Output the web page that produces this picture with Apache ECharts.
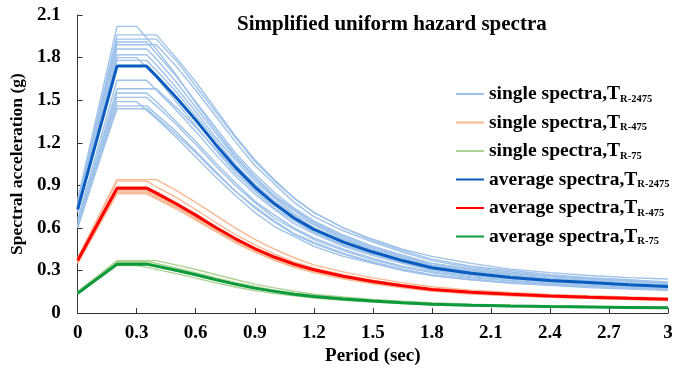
<!DOCTYPE html>
<html>
<head>
<meta charset="utf-8">
<script src="https://cdn.jsdelivr.net/npm/echarts@6/dist/echarts.min.js"></script>
<style>html,body{margin:0;padding:0;background:#fff}#c{width:676px;height:371px}</style>
</head>
<body>
<div id="c"></div>
<script>
var periods = [0, 0.2, 0.3, 0.35, 0.4, 0.5, 0.6, 0.7, 0.8, 0.9, 1.0, 1.1, 1.2, 1.35, 1.5, 1.65, 1.8, 2.0, 2.2, 2.4, 2.6, 2.8, 3.0];
var yTicks = [0, 0.3, 0.6, 0.9, 1.2, 1.5, 1.8, 2.1];
var xTicks = [0, 0.3, 0.6, 0.9, 1.2, 1.5, 1.8, 2.1, 2.4, 2.7, 3.0];

var avg2475 = [0.73, 1.74, 1.74, 1.74, 1.67, 1.52, 1.36, 1.19, 1.03, 0.89, 0.77, 0.67, 0.59, 0.50, 0.43, 0.37, 0.32, 0.28, 0.25, 0.23, 0.215, 0.20, 0.187];
var avg475 = [0.37, 0.88, 0.88, 0.88, 0.845, 0.77, 0.69, 0.605, 0.525, 0.455, 0.395, 0.345, 0.305, 0.26, 0.222, 0.192, 0.167, 0.147, 0.132, 0.121, 0.112, 0.104, 0.097];
var avg75 = [0.14, 0.345, 0.345, 0.345, 0.331, 0.302, 0.27, 0.236, 0.204, 0.176, 0.153, 0.133, 0.117, 0.099, 0.085, 0.073, 0.063, 0.056, 0.05, 0.046, 0.043, 0.04, 0.037];

var single2475 = [
  [0.80, 2.02, 2.02, 1.94, 1.86, 1.68, 1.48, 1.29, 1.11, 0.96, 0.83, 0.73, 0.64, 0.54, 0.47, 0.40, 0.35, 0.31, 0.28, 0.26, 0.24, 0.225, 0.21],
  [0.78, 1.96, 1.96, 1.96, 1.96, 1.80, 1.63, 1.44, 1.25, 1.08, 0.94, 0.81, 0.71, 0.60, 0.51, 0.44, 0.38, 0.33, 0.30, 0.27, 0.25, 0.235, 0.22],
  [0.77, 1.93, 1.93, 1.93, 1.93, 1.78, 1.60, 1.42, 1.24, 1.07, 0.93, 0.81, 0.71, 0.60, 0.52, 0.45, 0.40, 0.35, 0.31, 0.285, 0.265, 0.25, 0.24],
  [0.76, 1.91, 1.91, 1.91, 1.83, 1.67, 1.49, 1.31, 1.13, 0.98, 0.85, 0.74, 0.65, 0.55, 0.47, 0.41, 0.35, 0.31, 0.28, 0.255, 0.24, 0.225, 0.21],
  [0.75, 1.89, 1.89, 1.89, 1.89, 1.74, 1.57, 1.39, 1.21, 1.04, 0.91, 0.78, 0.68, 0.58, 0.50, 0.43, 0.37, 0.32, 0.29, 0.26, 0.245, 0.23, 0.215],
  [0.74, 1.86, 1.86, 1.86, 1.79, 1.63, 1.45, 1.27, 1.10, 0.95, 0.82, 0.72, 0.63, 0.53, 0.46, 0.40, 0.34, 0.30, 0.27, 0.245, 0.23, 0.215, 0.20],
  [0.73, 1.82, 1.82, 1.82, 1.75, 1.59, 1.42, 1.24, 1.08, 0.93, 0.81, 0.70, 0.62, 0.52, 0.45, 0.39, 0.335, 0.295, 0.265, 0.24, 0.225, 0.21, 0.195],
  [0.72, 1.80, 1.80, 1.73, 1.66, 1.49, 1.32, 1.15, 0.99, 0.86, 0.74, 0.65, 0.57, 0.48, 0.42, 0.36, 0.31, 0.275, 0.25, 0.23, 0.215, 0.20, 0.185],
  [0.71, 1.78, 1.78, 1.78, 1.71, 1.56, 1.39, 1.22, 1.05, 0.91, 0.79, 0.69, 0.60, 0.51, 0.44, 0.38, 0.33, 0.29, 0.26, 0.235, 0.22, 0.205, 0.19],
  [0.66, 1.64, 1.64, 1.64, 1.57, 1.43, 1.28, 1.12, 0.97, 0.84, 0.73, 0.63, 0.56, 0.47, 0.405, 0.35, 0.30, 0.265, 0.24, 0.22, 0.205, 0.19, 0.18],
  [0.64, 1.58, 1.58, 1.58, 1.58, 1.45, 1.31, 1.16, 1.01, 0.87, 0.76, 0.66, 0.57, 0.48, 0.415, 0.36, 0.31, 0.27, 0.245, 0.22, 0.205, 0.195, 0.18],
  [0.62, 1.55, 1.55, 1.55, 1.49, 1.35, 1.21, 1.06, 0.92, 0.79, 0.69, 0.60, 0.53, 0.45, 0.385, 0.33, 0.29, 0.255, 0.23, 0.21, 0.195, 0.185, 0.175],
  [0.61, 1.52, 1.52, 1.52, 1.46, 1.33, 1.19, 1.04, 0.90, 0.78, 0.67, 0.59, 0.52, 0.44, 0.375, 0.325, 0.285, 0.25, 0.225, 0.205, 0.19, 0.18, 0.17],
  [0.60, 1.49, 1.49, 1.43, 1.37, 1.24, 1.10, 0.96, 0.83, 0.71, 0.61, 0.54, 0.47, 0.40, 0.35, 0.30, 0.265, 0.235, 0.215, 0.20, 0.185, 0.175, 0.165],
  [0.60, 1.46, 1.46, 1.46, 1.40, 1.28, 1.14, 1.00, 0.86, 0.75, 0.65, 0.56, 0.50, 0.42, 0.36, 0.31, 0.27, 0.24, 0.215, 0.20, 0.185, 0.175, 0.165],
  [0.62, 1.44, 1.44, 1.44, 1.38, 1.26, 1.13, 0.99, 0.86, 0.74, 0.64, 0.555, 0.49, 0.415, 0.355, 0.31, 0.265, 0.235, 0.21, 0.195, 0.18, 0.17, 0.16]
];
var single475 = [
  [0.39, 0.94, 0.94, 0.94, 0.94, 0.865, 0.78, 0.69, 0.60, 0.52, 0.45, 0.39, 0.34, 0.29, 0.248, 0.215, 0.186, 0.162, 0.145, 0.132, 0.122, 0.114, 0.106],
  [0.38, 0.93, 0.93, 0.93, 0.89, 0.815, 0.73, 0.64, 0.555, 0.48, 0.415, 0.36, 0.318, 0.27, 0.232, 0.2, 0.174, 0.153, 0.137, 0.126, 0.117, 0.109, 0.102],
  [0.37, 0.89, 0.89, 0.89, 0.855, 0.78, 0.70, 0.61, 0.53, 0.46, 0.395, 0.345, 0.305, 0.257, 0.222, 0.191, 0.166, 0.146, 0.131, 0.12, 0.111, 0.104, 0.097],
  [0.36, 0.87, 0.87, 0.87, 0.835, 0.76, 0.68, 0.595, 0.515, 0.445, 0.385, 0.335, 0.295, 0.25, 0.215, 0.186, 0.161, 0.141, 0.127, 0.116, 0.108, 0.101, 0.094],
  [0.36, 0.86, 0.86, 0.86, 0.825, 0.75, 0.67, 0.59, 0.51, 0.44, 0.38, 0.33, 0.29, 0.247, 0.212, 0.183, 0.159, 0.139, 0.125, 0.114, 0.106, 0.099, 0.092],
  [0.35, 0.85, 0.85, 0.85, 0.815, 0.745, 0.665, 0.58, 0.505, 0.435, 0.375, 0.327, 0.288, 0.244, 0.21, 0.181, 0.157, 0.137, 0.123, 0.112, 0.104, 0.097, 0.09],
  [0.35, 0.84, 0.84, 0.84, 0.805, 0.735, 0.655, 0.575, 0.497, 0.43, 0.372, 0.323, 0.285, 0.241, 0.207, 0.179, 0.155, 0.135, 0.121, 0.111, 0.103, 0.096, 0.089]
];
var single75 = [
  [0.15, 0.37, 0.37, 0.37, 0.37, 0.34, 0.307, 0.272, 0.237, 0.204, 0.178, 0.154, 0.133, 0.113, 0.097, 0.084, 0.073, 0.063, 0.056, 0.051, 0.047, 0.044, 0.041],
  [0.15, 0.365, 0.365, 0.365, 0.35, 0.319, 0.285, 0.25, 0.216, 0.187, 0.162, 0.141, 0.124, 0.105, 0.09, 0.078, 0.067, 0.059, 0.053, 0.048, 0.045, 0.042, 0.039],
  [0.145, 0.355, 0.355, 0.355, 0.341, 0.31, 0.278, 0.243, 0.21, 0.181, 0.157, 0.137, 0.12, 0.102, 0.088, 0.076, 0.065, 0.057, 0.051, 0.047, 0.044, 0.041, 0.038],
  [0.14, 0.34, 0.34, 0.34, 0.326, 0.297, 0.266, 0.233, 0.201, 0.174, 0.151, 0.131, 0.115, 0.098, 0.084, 0.072, 0.063, 0.055, 0.049, 0.045, 0.042, 0.039, 0.036],
  [0.135, 0.335, 0.335, 0.322, 0.308, 0.278, 0.246, 0.214, 0.184, 0.159, 0.137, 0.121, 0.106, 0.09, 0.078, 0.067, 0.058, 0.051, 0.046, 0.043, 0.04, 0.037, 0.035]
];

var names = ['single spectra,T_R-2475', 'single spectra,T_R-475', 'single spectra,T_R-75',
             'average spectra,T_R-2475', 'average spectra,T_R-475', 'average spectra,T_R-75'];
var FONT = '"Liberation Serif", "Times New Roman", serif';

function pairs(arr) { return periods.map(function (p, i) { return [p, arr[i]]; }); }
function line(name, arr, color, width, z) {
  return { name: name, type: 'line', data: pairs(arr), symbol: 'none', z: z,
           lineStyle: { color: color, width: width }, itemStyle: { color: color }, silent: true, animation: false };
}
var series = [];
single2475.forEach(function (a) { series.push(line(names[0], a, '#9fc2ea', 1.4, 2)); });
single475.forEach(function (a) { series.push(line(names[1], a, '#f7b892', 1.4, 2)); });
single75.forEach(function (a) { series.push(line(names[2], a, '#acd394', 1.4, 2)); });
series.push(line(names[3], avg2475, '#0a5cbf', 3, 3));
series.push(line(names[4], avg475, '#ff0000', 3, 3));
series.push(line(names[5], avg75, '#0b9a3c', 3, 3));

var chart = echarts.init(document.getElementById('c'), null, { renderer: 'canvas' });
chart.setOption({
  animation: false,
  backgroundColor: '#ffffff',
  title: { text: 'Simplified uniform hazard spectra', left: 232, top: 9,
           textStyle: { fontFamily: FONT, fontWeight: 'bold', fontSize: 21, color: '#000' } },
  grid: { left: 75, right: 8, top: 15, bottom: 53 },
  legend: {
    data: names, orient: 'vertical', left: 450, top: 79, itemWidth: 28, itemHeight: 14, itemGap: 8,
    itemStyle: { opacity: 0 },
    formatter: function (n) { var p = n.split('_'); return p[0] + '{s|' + p[1] + '}'; },
    textStyle: { fontFamily: FONT, fontWeight: 'bold', fontSize: 19.5, color: '#000',
      rich: { s: { fontFamily: FONT, fontWeight: 'bold', fontSize: 10.5, color: '#000', padding: [10, 0, 0, 0] } } }
  },
  xAxis: {
    type: 'value', min: 0, max: 3, interval: 0.3,
    name: 'Period (sec)', nameLocation: 'middle', nameGap: 30,
    nameTextStyle: { fontFamily: FONT, fontWeight: 'bold', fontSize: 19, color: '#000' },
    axisLine: { show: true, lineStyle: { color: '#333', width: 1 } },
    axisTick: { show: true, inside: true, length: 5, lineStyle: { color: '#333' } },
    splitLine: { show: false },
    axisLabel: { fontFamily: FONT, fontWeight: 'bold', fontSize: 19, color: '#000', margin: 10,
      formatter: function (v) { return String(Math.round(v * 10) / 10); } }
  },
  yAxis: {
    type: 'value', min: 0, max: 2.1, interval: 0.3,
    name: 'Spectral acceleration (g)', nameLocation: 'middle', nameGap: 41, nameRotate: 90,
    nameTextStyle: { fontFamily: FONT, fontWeight: 'bold', fontSize: 17.5, color: '#000' },
    axisLine: { show: true, lineStyle: { color: '#333', width: 1 } },
    axisTick: { show: true, inside: true, length: 5, lineStyle: { color: '#333' } },
    splitLine: { show: false },
    axisLabel: { fontFamily: FONT, fontWeight: 'bold', fontSize: 19, color: '#000', margin: 17,
      formatter: function (v) { return String(Math.round(v * 10) / 10); } }
  },
  series: series
});
</script>
</body>
</html>
